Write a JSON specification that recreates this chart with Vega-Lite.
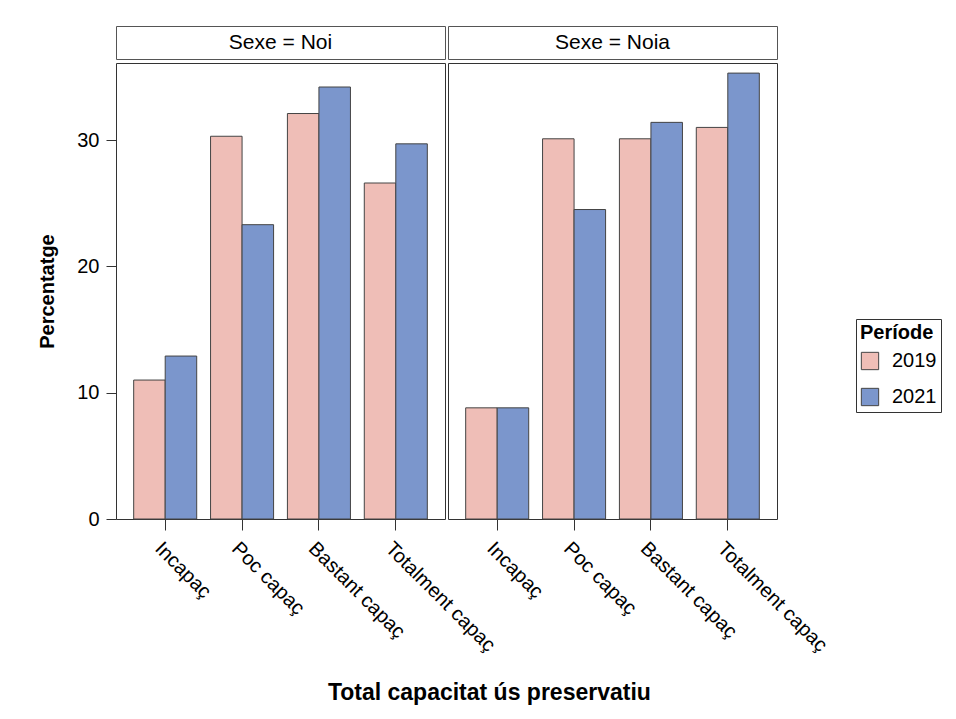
{
  "$schema": "https://vega.github.io/schema/vega-lite/v6.json",
  "background": "white",
  "padding": {"left": 37, "top": 25, "right": 5, "bottom": 5},
  "datasets": {
    "bars": [
      {"Sexe": "Noi", "Capacitat": "Incapaç", "Periode": "2019", "Percentatge": 11.0},
      {"Sexe": "Noi", "Capacitat": "Incapaç", "Periode": "2021", "Percentatge": 12.9},
      {"Sexe": "Noi", "Capacitat": "Poc capaç", "Periode": "2019", "Percentatge": 30.3},
      {"Sexe": "Noi", "Capacitat": "Poc capaç", "Periode": "2021", "Percentatge": 23.3},
      {"Sexe": "Noi", "Capacitat": "Bastant capaç", "Periode": "2019", "Percentatge": 32.1},
      {"Sexe": "Noi", "Capacitat": "Bastant capaç", "Periode": "2021", "Percentatge": 34.2},
      {"Sexe": "Noi", "Capacitat": "Totalment capaç", "Periode": "2019", "Percentatge": 26.6},
      {"Sexe": "Noi", "Capacitat": "Totalment capaç", "Periode": "2021", "Percentatge": 29.7},
      {"Sexe": "Noia", "Capacitat": "Incapaç", "Periode": "2019", "Percentatge": 8.8},
      {"Sexe": "Noia", "Capacitat": "Incapaç", "Periode": "2021", "Percentatge": 8.8},
      {"Sexe": "Noia", "Capacitat": "Poc capaç", "Periode": "2019", "Percentatge": 30.1},
      {"Sexe": "Noia", "Capacitat": "Poc capaç", "Periode": "2021", "Percentatge": 24.5},
      {"Sexe": "Noia", "Capacitat": "Bastant capaç", "Periode": "2019", "Percentatge": 30.1},
      {"Sexe": "Noia", "Capacitat": "Bastant capaç", "Periode": "2021", "Percentatge": 31.4},
      {"Sexe": "Noia", "Capacitat": "Totalment capaç", "Periode": "2019", "Percentatge": 31.0},
      {"Sexe": "Noia", "Capacitat": "Totalment capaç", "Periode": "2021", "Percentatge": 35.3}
    ],
    "heads": [
      {"Sexe": "Noi", "label": "Sexe = Noi"},
      {"Sexe": "Noia", "label": "Sexe = Noia"}
    ]
  },
  "title": {
    "text": "Total capacitat ús preservatiu",
    "orient": "bottom",
    "anchor": "middle",
    "font": "Liberation Sans",
    "fontSize": 23,
    "fontWeight": "bold",
    "color": "#000",
    "offset": 26
  },
  "columns": 2,
  "spacing": {"row": 4, "column": 3},
  "bounds": "flush",
  "concat": [
    {
      "width": 329,
      "height": 33,
      "view": {"stroke": "#555", "strokeWidth": 1, "fill": "white"},
      "data": {"name": "heads"},
      "transform": [{"filter": "datum.Sexe === 'Noi'"}],
      "mark": {"type": "text", "font": "Liberation Sans", "fontSize": 21, "color": "#000"},
      "encoding": {"text": {"field": "label"}}
    },
    {
      "width": 329,
      "height": 33,
      "view": {"stroke": "#555", "strokeWidth": 1, "fill": "white"},
      "data": {"name": "heads"},
      "transform": [{"filter": "datum.Sexe === 'Noia'"}],
      "mark": {"type": "text", "font": "Liberation Sans", "fontSize": 21, "color": "#000"},
      "encoding": {"text": {"field": "label"}}
    },
    {
      "width": 329,
      "height": 456,
      "data": {"name": "bars"},
      "transform": [{"filter": "datum.Sexe === 'Noi'"}],
      "mark": {"type": "bar", "stroke": "#444", "strokeWidth": 1},
      "encoding": {
        "x": {
          "field": "Capacitat", "type": "nominal",
          "sort": ["Incapaç", "Poc capaç", "Bastant capaç", "Totalment capaç"],
          "scale": {"paddingInner": 0.18, "paddingOuter": 0.23},
          "axis": {"title": null, "labelAngle": 45, "labelAlign": "left", "labelBaseline": "top", "labelFontSize": 20, "labelFont": "Liberation Sans", "labelColor": "#000", "tickSize": 11, "tickColor": "#333", "domain": false, "labelPadding": 8}
        },
        "xOffset": {"field": "Periode", "type": "nominal", "sort": ["2019", "2021"]},
        "y": {
          "field": "Percentatge", "type": "quantitative",
          "scale": {"domain": [0, 36.1], "nice": false},
          "axis": {"title": "Percentatge", "titleFont": "Liberation Sans", "titleFontSize": 20, "titleFontWeight": "bold", "titleColor": "#000", "titlePadding": 19, "values": [0, 10, 20, 30], "labelFontSize": 20, "labelFont": "Liberation Sans", "labelColor": "#000", "tickSize": 10, "tickColor": "#333", "grid": false, "domain": false, "labelPadding": 7}
        },
        "color": {
          "field": "Periode", "type": "nominal", "sort": ["2019", "2021"],
          "scale": {"domain": ["2019", "2021"], "range": ["#EFBEB7", "#7B96CC"]},
          "legend": {
            "title": "Període", "titleFont": "Liberation Sans", "titleFontSize": 20, "titleFontWeight": "bold", "titleColor": "#000",
            "labelFont": "Liberation Sans", "labelFontSize": 20, "labelColor": "#000", "labelOffset": 12,
            "symbolType": "square", "symbolSize": 300, "symbolStrokeColor": "#555", "symbolStrokeWidth": 1,
            "strokeColor": "#333", "padding": 4, "rowPadding": 14, "titlePadding": 8,
            "orient": "none", "legendX": 740, "legendY": 293
          }
        }
      }
    },
    {
      "width": 329,
      "height": 456,
      "data": {"name": "bars"},
      "transform": [{"filter": "datum.Sexe === 'Noia'"}],
      "mark": {"type": "bar", "stroke": "#444", "strokeWidth": 1},
      "encoding": {
        "x": {
          "field": "Capacitat", "type": "nominal",
          "sort": ["Incapaç", "Poc capaç", "Bastant capaç", "Totalment capaç"],
          "scale": {"paddingInner": 0.18, "paddingOuter": 0.23},
          "axis": {"title": null, "labelAngle": 45, "labelAlign": "left", "labelBaseline": "top", "labelFontSize": 20, "labelFont": "Liberation Sans", "labelColor": "#000", "tickSize": 11, "tickColor": "#333", "domain": false, "labelPadding": 8}
        },
        "xOffset": {"field": "Periode", "type": "nominal", "sort": ["2019", "2021"]},
        "y": {
          "field": "Percentatge", "type": "quantitative",
          "scale": {"domain": [0, 36.1], "nice": false},
          "axis": null
        },
        "color": {
          "field": "Periode", "type": "nominal", "sort": ["2019", "2021"],
          "scale": {"domain": ["2019", "2021"], "range": ["#EFBEB7", "#7B96CC"]}
        }
      }
    }
  ],
  "config": {
    "view": {"stroke": "#333", "strokeWidth": 1},
    "font": "Liberation Sans"
  }
}
